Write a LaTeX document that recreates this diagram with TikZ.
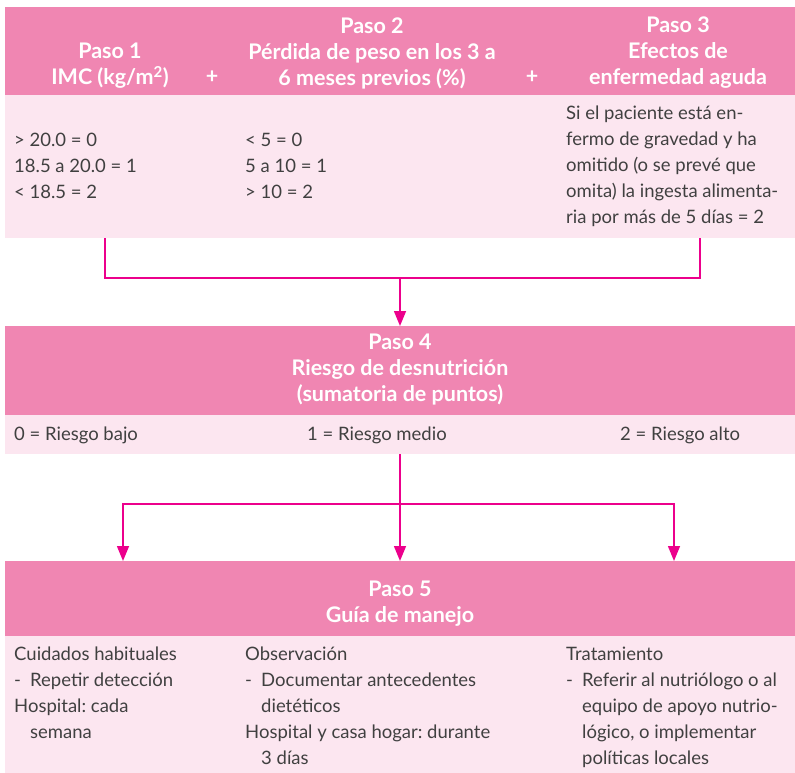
\documentclass[tikz,border=0pt]{standalone}
\usepackage{fontspec}
\setmainfont{Lato}
\usetikzlibrary{arrows.meta}
\definecolor{PasoPink}{RGB}{240,134,178}
\definecolor{PasoLight}{RGB}{252,230,240}
\definecolor{PasoLine}{RGB}{236,0,140}
\definecolor{PasoText}{RGB}{64,64,64}
\newcommand{\itemdash}{\makebox[16pt][l]{-}}
\newcommand{\itemgap}{\hspace*{16pt}}
\frenchspacing
\tikzset{
  band/.style={fill=#1,draw=none,minimum width=790pt,inner sep=0pt,outer sep=0pt},
  head/.style={font=\fontsize{21.5}{26}\selectfont\bfseries,text=white,align=center,inner sep=0pt},
  body/.style={font=\fontsize{18.5}{26}\selectfont,text=PasoText,align=left,inner sep=0pt},
  link/.style={PasoLine,line width=1.5pt},
  tolink/.style={link,-{Triangle[width=12pt,length=15pt]}}
}

\begin{document}
\begin{tikzpicture}[x=1pt,y=-1pt]
\useasboundingbox (0,0) rectangle (795,773);
\node[band=PasoPink,minimum height=88pt] (head1) at (400,51) {};
\node[band=PasoLight,minimum height=143pt] (body1) at (400,166.5) {};
\node[band=PasoPink,minimum height=89pt] (head4) at (400,370.5) {};
\node[band=PasoLight,minimum height=39pt] (body4) at (400,434.5) {};
\node[band=PasoPink,minimum height=75pt] (head5) at (400,598.5) {};
\node[band=PasoLight,minimum height=137pt] (body5) at (400,704.5) {};

\node[head,anchor=south] (paso1) at (110,89) {Paso 1\\IMC (kg/m\textsuperscript{2})};
\node[head,anchor=base] (plus1) at (212,84) {+};
\node[head,anchor=south] (paso2) at (372,89) {Paso 2\\Pérdida de peso en los 3 a\\6 meses previos (\%)};
\node[head,anchor=base] (plus2) at (532,84) {+};
\node[head,anchor=south] (paso3) at (678,89) {Paso 3\\Efectos de\\enfermedad aguda};

\node[body,anchor=west] (imc) at (14,166) {> 20.0 = 0\\18.5 a 20.0 = 1\\< 18.5 = 2};
\node[body,anchor=west] (peso) at (245,166) {< 5 = 0\\5 a 10 = 1\\> 10 = 2};
\node[body,anchor=west] (aguda) at (566,166) {Si el paciente está en-\\fermo de gravedad y ha\\omitido (o se prevé que\\omita) la ingesta alimenta-\\ria por más de 5 días = 2};

\coordinate (joinL) at (105,278);
\coordinate (joinR) at (700,278);
\draw[link] (body1.south -| joinL) -- (joinL) -- (joinR) -- (body1.south -| joinR);
\draw[tolink] (head4.north |- joinL) -- (head4.north);

\node[head] (paso4) at (400,370) {Paso 4\\Riesgo de desnutrición\\(sumatoria de puntos)};
\node[body,anchor=west] (bajo) at (14,435) {0 = Riesgo bajo};
\node[body,anchor=west] (medio) at (307,435) {1 = Riesgo medio};
\node[body,anchor=west] (alto) at (620,435) {2 = Riesgo alto};

\coordinate (forkL) at (123,504);
\coordinate (forkR) at (674,504);
\draw[tolink] (body4.south) -- (head5.north);
\draw[tolink] (body4.south |- forkL) -| (head5.north -| forkL);
\draw[tolink] (body4.south |- forkR) -| (head5.north -| forkR);

\node[head] (paso5) at (400,604) {Paso 5\\Guía de manejo};
\node[body,anchor=north west] (habitual) at (14,647) {Cuidados habituales\\\itemdash Repetir detección\\Hospital: cada\\\itemgap semana};
\node[body,anchor=north west] (observa) at (245,647) {Observación\\\itemdash Documentar antecedentes\\\itemgap dietéticos\\Hospital y casa hogar: durante\\\itemgap 3 días};
\node[body,anchor=north west] (trata) at (566,647) {Tratamiento\\\itemdash Referir al nutriólogo o al\\\itemgap equipo de apoyo nutrio-\\\itemgap lógico, o implementar\\\itemgap políticas locales};
\end{tikzpicture}
\end{document}
